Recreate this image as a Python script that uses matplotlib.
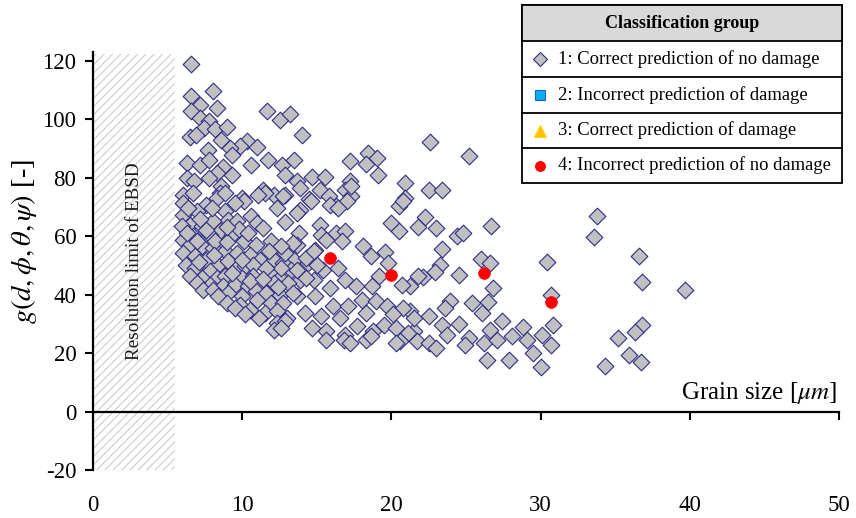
import matplotlib
matplotlib.use("Agg")
import matplotlib.pyplot as plt
from matplotlib.patches import Rectangle
from matplotlib.lines import Line2D

plt.rcParams['font.family'] = ['Liberation Serif', 'DejaVu Serif']
plt.rcParams['mathtext.fontset'] = 'stix'
plt.rcParams['axes.unicode_minus'] = False
plt.rcParams['hatch.linewidth'] = 0.8
plt.rcParams['hatch.color'] = '#cccccc'

# ---- data: grain size [um] vs. damage indicator g ----
group1_points = [
    (6.55, 118.8), (6.55, 107.8), (7.2, 105.0), (8.06, 109.8), (8.3, 104.0), (6.55, 102.7),
    (7.2, 100.5), (7.8, 99.3), (7.44, 97.0), (8.2, 96.7), (8.96, 97.5), (11.64, 102.7),
    (12.5, 99.8), (13.2, 101.9), (6.5, 94.0), (6.9, 94.7), (8.6, 93.0), (10.3, 92.4),
    (11.0, 90.6), (9.85, 90.7), (9.2, 90.3), (7.7, 89.6), (9.3, 87.9), (10.6, 84.4),
    (11.7, 86.2), (12.7, 84.4), (13.5, 86.2), (6.3, 85.0), (7.2, 84.4), (7.8, 86.0),
    (8.7, 83.8), (8.3, 81.7), (9.3, 81.0), (12.9, 81.0), (6.3, 80.0), (6.8, 78.7),
    (7.8, 80.0), (8.6, 77.1), (11.4, 75.9), (12.1, 74.2), (12.9, 74.2), (6.0, 74.2),
    (6.7, 74.9), (8.5, 74.9), (10.0, 73.2), (13.65, 78.8),
    (14.0, 94.7), (17.2, 85.6), (18.45, 88.4), (19.05, 86.7), (18.3, 84.8), (19.1, 81.0),
    (14.65, 80.4), (15.55, 80.2), (13.9, 76.5), (15.2, 75.9), (20.9, 78.2), (17.2, 78.7),
    (16.9, 75.9), (17.3, 73.7), (14.5, 72.7), (15.8, 73.7), (20.9, 73.0), (16.3, 70.4),
    (20.5, 70.3), (17.3, 77.1),
    (22.6, 92.1), (25.2, 87.3), (22.5, 75.7), (23.4, 75.9), (22.25, 66.6), (21.8, 63.1),
    (23.0, 62.8), (26.7, 63.4), (24.4, 60.0), (24.8, 61.1), (23.4, 55.6), (26.0, 52.2),
    (26.6, 50.8), (30.4, 51.0), (23.25, 50.3), (22.9, 47.6), (22.1, 46.0), (24.5, 46.8),
    (26.8, 42.3), (30.7, 40.0), (21.25, 42.8), (23.9, 37.7), (25.4, 37.2), (26.5, 37.4),
    (23.6, 35.4), (26.1, 33.7), (22.5, 32.6), (21.25, 34.3), (23.4, 29.7), (24.5, 30.1),
    (27.4, 30.9), (30.8, 29.7), (26.6, 28.0), (28.8, 28.9), (30.1, 26.3), (21.5, 27.5),
    (23.7, 26.3), (25.2, 25.2), (28.1, 25.7), (29.1, 24.6), (21.7, 24.0), (22.5, 23.5),
    (23.0, 21.8), (24.9, 22.9), (26.2, 23.5), (27.1, 24.4), (30.7, 22.6), (29.5, 20.1),
    (26.4, 17.8), (27.9, 17.5), (30.0, 15.3),
    (33.8, 66.8), (33.6, 59.7), (36.6, 53.3), (36.8, 44.2), (39.7, 41.7), (36.8, 29.7),
    (36.3, 27.1), (35.2, 25.2), (35.9, 19.5), (36.7, 16.9), (34.3, 15.7),
    (17.0, 71.9), (20.8, 71.9), (20.0, 64.5), (20.5, 61.7), (13.8, 61.1), (15.2, 63.9),
    (15.3, 60.5), (16.3, 61.1), (16.9, 61.7), (15.6, 58.8), (16.7, 58.3), (13.65, 57.1),
    (14.9, 55.4), (18.1, 56.5), (18.6, 53.2), (19.6, 54.6), (19.8, 50.9), (21.8, 46.4),
    (13.5, 52.0), (14.4, 50.9), (15.4, 48.5), (16.4, 49.1), (19.2, 46.4), (18.7, 43.1),
    (16.9, 45.1), (17.6, 43.1), (20.7, 43.4), (13.9, 45.1), (14.8, 45.1), (15.9, 42.3),
    (14.9, 39.5), (13.65, 39.5), (16.1, 36.1), (17.1, 36.1), (18.0, 38.3), (19.0, 37.7),
    (19.7, 36.1), (20.8, 35.5), (14.2, 33.7), (15.3, 32.6), (16.55, 32.1), (18.3, 33.7),
    (20.1, 33.2), (21.5, 32.1), (14.65, 28.6), (15.65, 27.5), (16.9, 26.3), (17.7, 29.2),
    (18.8, 27.5), (19.5, 29.7), (20.3, 28.6), (21.1, 26.9), (18.3, 24.6), (20.6, 24.1),
    (14.6, 71.9), (15.9, 70.8), (16.4, 69.6), (13.9, 69.0),
    (16.8, 24.6), (18.6, 25.7), (20.3, 23.5), (17.2, 23.5), (15.65, 24.6),
    (6.05, 71.3), (7.6, 70.8), (8.3, 73.0), (8.85, 74.8), (10.1, 71.9), (9.5, 71.3),
    (11.5, 74.8), (12.75, 73.7), (6.05, 67.4), (6.95, 68.6), (8.85, 68.6), (9.07, 65.6),
    (9.63, 65.2), (10.6, 66.9), (11.0, 64.5), (11.4, 62.8), (6.5, 63.9), (5.95, 63.4),
    (7.3, 63.4), (8.06, 65.2), (8.5, 61.7), (7.84, 60.5), (6.7, 60.0), (6.05, 58.8),
    (9.3, 60.5), (10.1, 58.3), (10.9, 57.1), (11.9, 58.3), (6.5, 57.1), (7.3, 56.6),
    (8.06, 56.0), (8.85, 54.9), (9.63, 54.4), (6.05, 54.4), (6.84, 53.2), (7.6, 52.0),
    (10.5, 53.7), (11.2, 52.0), (12.1, 52.0), (12.75, 50.9), (13.3, 48.5), (6.2, 50.3),
    (6.84, 49.1), (8.4, 50.3), (9.07, 51.5), (9.63, 49.1), (10.2, 49.8), (10.75, 50.3),
    (7.84, 48.0), (7.3, 45.7), (8.3, 45.7), (8.85, 46.4), (9.96, 45.7), (10.75, 46.4),
    (11.9, 47.5), (12.5, 45.7), (7.84, 43.4), (8.73, 42.8), (9.5, 43.4), (10.4, 42.8),
    (11.2, 42.8), (12.1, 44.0), (13.1, 44.0), (9.07, 40.6), (9.96, 39.5), (10.9, 41.1),
    (11.6, 40.6), (12.5, 40.0), (13.4, 40.6), (9.85, 36.6), (11.0, 38.3), (11.9, 37.2),
    (12.75, 37.2), (10.5, 34.9), (11.5, 33.7), (12.3, 34.3), (13.0, 32.1), (12.3, 30.4),
    (12.9, 30.9),
    (6.5, 46.4), (6.95, 44.0), (7.4, 41.7), (8.06, 41.7), (8.4, 39.5), (8.96, 37.2),
    (9.5, 35.5), (10.2, 33.2), (11.1, 32.1), (12.1, 28.0), (12.6, 28.6),
    (11.06, 74.2), (12.3, 69.6), (13.65, 67.9), (12.9, 65.0),
    (13.4, 57.7), (12.9, 54.3), (12.6, 49.1), (13.65, 48.5), (14.3, 52.5), (14.8, 54.8),
    (15.0, 50.3), (14.3, 45.7),
    (6.3, 61.0), (7.0, 58.5), (7.6, 62.0), (8.2, 58.5), (9.0, 58.0), (6.4, 69.5),
    (7.2, 66.0), (8.0, 69.5), (9.8, 62.5), (10.4, 61.0), (9.0, 63.0), (7.1, 51.0),
    (8.1, 53.5), (9.3, 47.5), (10.0, 52.0), (11.6, 49.0), (11.8, 55.0), (12.6, 56.5),
    (10.5, 44.5), (11.4, 45.5), (12.4, 42.5),
]
group1_size = [p[0] for p in group1_points]
group1_g = [p[1] for p in group1_points]

group2_size, group2_g = [], []
group3_size, group3_g = [], []
group4_size = [15.9, 19.95, 26.2, 30.7]
group4_g = [52.5, 46.8, 47.3, 37.6]

group_labels = [
    "1: Correct prediction of no damage",
    "2: Incorrect prediction of damage",
    "3: Correct prediction of damage",
    "4: Incorrect prediction of no damage",
]

ebsd_limit = 5.5
x_ticks = [0, 10, 20, 30, 40, 50]
y_ticks = [-20, 0, 20, 40, 60, 80, 100, 120]

W, H = 856, 518
fig = plt.figure(figsize=(W / 100, H / 100), dpi=100)
ax = fig.add_axes([93 / W, 48 / H, (839 - 93) / W, (470 - 52) / H])
ax.set_xlim(0, 50)
ax.set_ylim(-20, 123)

# EBSD resolution band
ax.add_patch(Rectangle((0, -20), ebsd_limit, 142.3, facecolor='white',
                       edgecolor='#cccccc', hatch='////', lw=0, zorder=0))
ax.text(ebsd_limit / 2, 51.5, "Resolution limit of EBSD", rotation=90,
        ha='center', va='center', fontsize=13.8, color='#1a1a1a', zorder=1)

styles = [
    dict(marker='D', s=72, facecolor='#c0c0c0', edgecolor='#2e2e88', linewidths=0.8),
    dict(marker='s', s=45, facecolor='#00b0f0', edgecolor='#1f5fbf', linewidths=0.8),
    dict(marker='^', s=80, facecolor='#ffc000', edgecolor='#ffd700', linewidths=0.8),
    dict(marker='o', s=72, facecolor='#ff0000', edgecolor='#ff0000', linewidths=0.5),
]
series = [(group1_size, group1_g), (group2_size, group2_g),
          (group3_size, group3_g), (group4_size, group4_g)]
for i, ((xs, ys), st) in enumerate(zip(series, styles)):
    ax.scatter(xs, ys, zorder=3 + i, **st)

# axes styling
for side in ('top', 'right'):
    ax.spines[side].set_visible(False)
ax.spines['left'].set_linewidth(1.6)
ax.spines['bottom'].set_position(('data', 0))
ax.spines['bottom'].set_linewidth(1.6)
ax.set_xticks(x_ticks)
ax.set_yticks(y_ticks)
ax.tick_params(axis='x', direction='out', length=6, width=1.5, pad=54, labelsize=16.5)
ax.tick_params(axis='y', direction='out', length=6, width=1.5, pad=6, labelsize=16.5)

ax.set_ylabel(r"$g(d,\phi,\theta,\psi)$ [-]", fontsize=20.5, va='center')
ax.yaxis.set_label_coords((24 - 93) / 746, (470 - 242) / 418)
ax.text(49.9, 6.5, r"Grain size [$\mu m$]", ha='right', va='center', fontsize=18)

# classification legend drawn as a bordered table
def fx(px):
    return px / W

def fy(py):
    return 1 - py / H

left, right, top, bottom = 522, 842, 5, 183
row_edges = [41, 77, 113, 148]
fig.add_artist(Rectangle((fx(left), fy(bottom)), fx(right - left), (bottom - top) / H,
                         facecolor='white', edgecolor='black', lw=1.3, zorder=10))
fig.add_artist(Rectangle((fx(left), fy(row_edges[0])), fx(right - left), (row_edges[0] - top) / H,
                         facecolor='#d9d9d9', edgecolor='black', lw=1.3, zorder=11))
for yy in row_edges[1:]:
    fig.add_artist(Line2D([fx(left), fx(right)], [fy(yy), fy(yy)], color='black', lw=1.3, zorder=11))
fig.text(fx((left + right) / 2), fy((top + row_edges[0]) / 2), "Classification group",
         ha='center', va='center', fontsize=13, fontweight='bold', zorder=12)
row_bounds = row_edges + [bottom]
legend_ms = [7.5, 6.5, 9, 7]
for i, (lab, st) in enumerate(zip(group_labels, styles)):
    yc = (row_bounds[i] + row_bounds[i + 1]) / 2
    fig.add_artist(Line2D([fx(540)], [fy(yc)], marker=st['marker'], markersize=legend_ms[i],
                          markerfacecolor=st['facecolor'], markeredgecolor=st['edgecolor'],
                          markeredgewidth=0.8, linestyle='none', zorder=12))
    fig.text(fx(558), fy(yc), lab, ha='left', va='center', fontsize=13.4, zorder=12)

fig.savefig("out.png", dpi=100)
